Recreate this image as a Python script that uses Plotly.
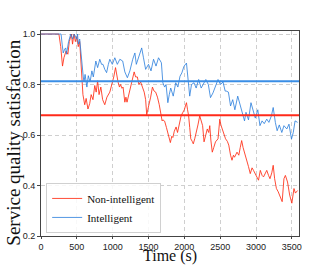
import plotly.graph_objects as go

# ---- data ----
red_time = [0, 250, 275, 300, 320, 350, 375, 395, 425, 440, 460, 480, 500, 520, 540, 550, 570, 585,
            610, 630, 655, 680, 700, 725, 750, 770, 790, 810, 835, 860, 890, 920, 960, 990, 1015,
            1040, 1060, 1075, 1095, 1110, 1130, 1145, 1170, 1185, 1200, 1225, 1250, 1275, 1300,
            1320, 1345, 1365, 1390, 1415, 1440, 1460, 1475, 1490, 1510, 1530, 1555, 1575, 1600,
            1625, 1650, 1670, 1690, 1700, 1725, 1750, 1770, 1790, 1805, 1825, 1840, 1860, 1885,
            1905, 1930, 1955, 1980, 2000, 2015, 2030, 2045, 2060, 2075, 2090, 2110, 2125, 2145,
            2160, 2190, 2215, 2235, 2255, 2275, 2295, 2320, 2340, 2355, 2370, 2390, 2410, 2435,
            2470, 2495, 2510, 2530, 2555, 2575, 2600, 2620, 2645, 2665, 2685, 2700, 2735, 2760,
            2780, 2800, 2820, 2840, 2870, 2895, 2920, 2945, 2965, 2985, 3000, 3035, 3060, 3085,
            3105, 3130, 3150, 3175, 3195, 3220, 3240, 3260, 3285, 3310, 3330, 3350, 3365, 3390,
            3410, 3440, 3470, 3500, 3530, 3550, 3580]
red_vals = [1.0, 1.0, 0.95, 0.873, 0.906, 0.933, 0.92, 0.97, 1.0, 0.96, 1.0, 0.97, 0.99, 0.95, 0.97,
            0.92, 0.83, 0.76, 0.72, 0.745, 0.703, 0.725, 0.76, 0.74, 0.796, 0.77, 0.815, 0.76, 0.79,
            0.74, 0.72, 0.75, 0.77, 0.80, 0.83, 0.867, 0.83, 0.81, 0.79, 0.80, 0.785, 0.79, 0.73,
            0.75, 0.73, 0.76, 0.79, 0.82, 0.85, 0.83, 0.83, 0.80, 0.81, 0.79, 0.77, 0.74, 0.68,
            0.70, 0.72, 0.75, 0.79, 0.775, 0.77, 0.75, 0.72, 0.69, 0.656, 0.66, 0.655, 0.63, 0.61,
            0.58, 0.57, 0.595, 0.59, 0.615, 0.632, 0.61, 0.64, 0.676, 0.69, 0.70, 0.715, 0.728,
            0.70, 0.676, 0.63, 0.585, 0.575, 0.565, 0.585, 0.60, 0.64, 0.676, 0.655, 0.637, 0.573,
            0.60, 0.624, 0.61, 0.637, 0.58, 0.532, 0.55, 0.573, 0.585, 0.663, 0.64, 0.624, 0.60,
            0.585, 0.575, 0.56, 0.52, 0.50, 0.52, 0.512, 0.532, 0.52, 0.55, 0.578, 0.55, 0.532,
            0.506, 0.475, 0.447, 0.47, 0.46, 0.45, 0.44, 0.421, 0.46, 0.44, 0.434, 0.45, 0.46,
            0.44, 0.427, 0.45, 0.48, 0.427, 0.388, 0.375, 0.362, 0.35, 0.336, 0.427, 0.44, 0.414,
            0.362, 0.33, 0.388, 0.37, 0.38]

blue_time = [0, 280, 295, 310, 330, 345, 355, 370, 385, 415, 440, 465, 495, 510, 520, 540, 550, 565,
             575, 590, 600, 615, 640, 660, 685, 710, 730, 750, 765, 790, 820, 845, 865, 890, 915,
             940, 960, 995, 1030, 1065, 1100, 1140, 1170, 1205, 1240, 1280, 1310, 1330, 1370, 1405,
             1430, 1460, 1500, 1535, 1570, 1605, 1640, 1665, 1680, 1700, 1725, 1745, 1770, 1790,
             1810, 1845, 1880, 1910, 1940, 1965, 1995, 2030, 2050, 2075, 2100, 2135, 2165, 2200,
             2235, 2270, 2300, 2335, 2365, 2400, 2440, 2470, 2505, 2540, 2570, 2585, 2615, 2645,
             2675, 2705, 2745, 2780, 2815, 2840, 2860, 2895, 2930, 2965, 2990, 3025, 3055, 3085,
             3115, 3150, 3180, 3215, 3240, 3270, 3295, 3325, 3360, 3390, 3430, 3460, 3495, 3520,
             3545, 3580]
blue_vals = [1.0, 1.0, 0.96, 0.925, 0.94, 0.945, 0.92, 0.95, 0.97, 1.0, 0.98, 1.0, 0.98, 1.0, 0.96,
             0.98, 0.945, 0.90, 0.867, 0.83, 0.81, 0.84, 0.79, 0.835, 0.81, 0.854, 0.83, 0.87,
             0.893, 0.867, 0.90, 0.88, 0.88, 0.86, 0.847, 0.88, 0.90, 0.88, 0.906, 0.88, 0.90,
             0.893, 0.85, 0.827, 0.854, 0.90, 0.925, 0.88, 0.92, 0.945, 0.906, 0.86, 0.88, 0.854,
             0.90, 0.873, 0.906, 0.895, 0.886, 0.807, 0.79, 0.80, 0.728, 0.76, 0.786, 0.754, 0.807,
             0.79, 0.833, 0.846, 0.872, 0.885, 0.833, 0.754, 0.80, 0.807, 0.786, 0.82, 0.786,
             0.807, 0.82, 0.80, 0.748, 0.767, 0.80, 0.82, 0.80, 0.81, 0.774, 0.774, 0.77, 0.715,
             0.74, 0.70, 0.754, 0.715, 0.676, 0.656, 0.69, 0.66, 0.728, 0.69, 0.667, 0.70, 0.637,
             0.656, 0.645, 0.663, 0.65, 0.676, 0.709, 0.65, 0.617, 0.64, 0.61, 0.637, 0.624, 0.643,
             0.584, 0.61, 0.656, 0.65]

red_mean = 0.678
blue_mean = 0.813
x_span = [0, 3600]
x_ticks = [0, 500, 1000, 1500, 2000, 2500, 3000, 3500]
y_ticks = [0.2, 0.4, 0.6, 0.8, 1.0]

RED = "rgba(255,45,20,0.85)"
BLUE = "rgba(40,125,220,0.8)"

fig = go.Figure()
fig.add_trace(go.Scatter(x=red_time, y=red_vals, mode="lines", name="Non-intelligent",
                         line=dict(color=RED, width=1)))
fig.add_trace(go.Scatter(x=blue_time, y=blue_vals, mode="lines", name="Intelligent",
                         line=dict(color=BLUE, width=1)))
fig.add_trace(go.Scatter(x=x_span, y=[blue_mean, blue_mean], mode="lines", showlegend=False,
                         line=dict(color="#3a8ee6", width=2), hoverinfo="skip"))
fig.add_trace(go.Scatter(x=x_span, y=[red_mean, red_mean], mode="lines", showlegend=False,
                         line=dict(color="#ff2a1a", width=2), hoverinfo="skip"))

axis_common = dict(showline=True, mirror=True, linecolor="#444", linewidth=1,
                   ticks="outside", ticklen=3, tickcolor="#444",
                   showgrid=True, gridcolor="#cfcfcf", griddash="4px,3px", gridwidth=1,
                   zeroline=False,
                   tickfont=dict(family="Liberation Sans", size=9, color="#222"))

fig.update_xaxes(range=[0, 3600], tickvals=x_ticks, **axis_common)
fig.update_yaxes(range=[0.2, 1.012], tickvals=y_ticks, tickformat=".1f", **axis_common)
fig.update_xaxes(ticklen=2)

fig.update_layout(
    width=332, height=266,
    margin=dict(l=41, r=33, t=31, b=30),
    plot_bgcolor="white", paper_bgcolor="white",
    showlegend=True,
    legend=dict(x=0.02, y=0.015, xanchor="left", yanchor="bottom",
                bgcolor="rgba(255,255,255,0.85)", bordercolor="#d0d0d0", borderwidth=1,
                font=dict(family="Liberation Serif", size=11, color="#111"),
                itemwidth=30, tracegroupgap=0),
    annotations=[
        dict(text="Time (s)", xref="paper", yref="paper", x=0.5, y=-0.148,
             xanchor="center", yanchor="bottom", showarrow=False, borderpad=0,
             font=dict(family="Liberation Serif", size=16, color="#111")),
        dict(text="Service quality satisfaction", xref="paper", yref="paper",
             x=-0.105, y=0.455, xanchor="center", yanchor="middle", textangle=-90,
             showarrow=False,
             font=dict(family="Liberation Serif", size=19, color="#111")),
    ],
)

fig.write_html("out.html", config={"displayModeBar": False},
               post_script="document.body.style.margin='0';")
